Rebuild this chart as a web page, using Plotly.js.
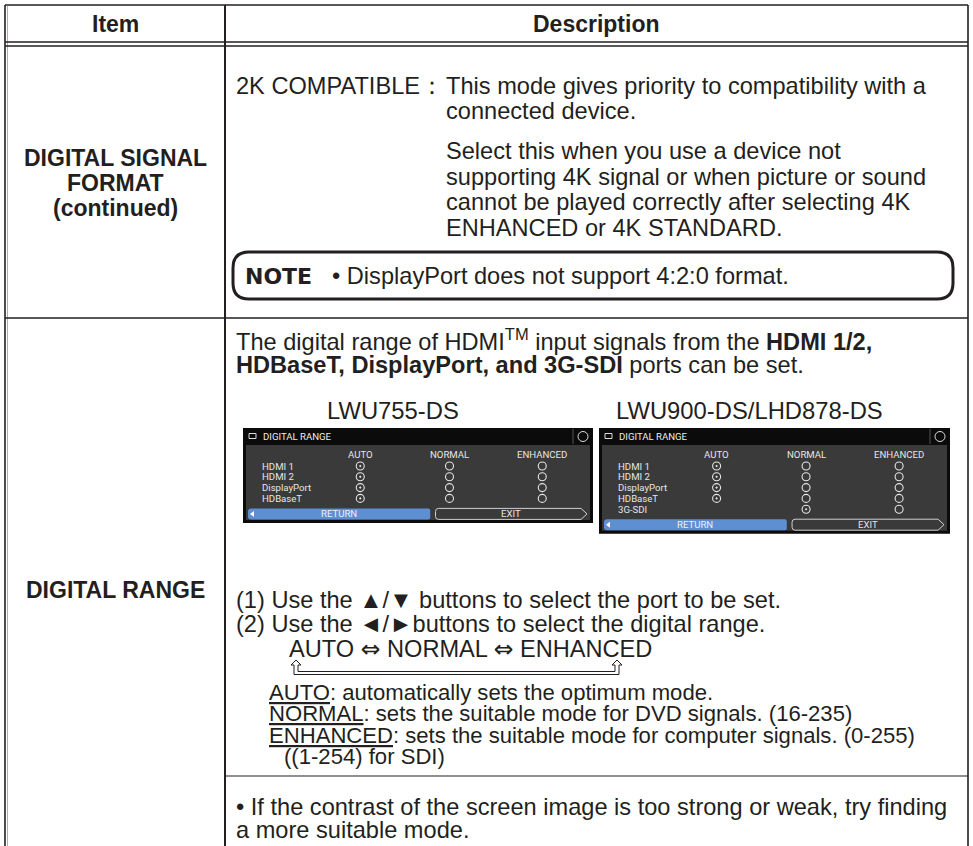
<!DOCTYPE html>
<html><head><meta charset="utf-8">
<script src="https://cdn.plot.ly/plotly-3.0.1.min.js"></script>
<style>html,body{margin:0;padding:0;background:#fff;}#chart{width:973px;height:846px;}</style>
</head><body><div id="chart"></div>
<script>
// ---------- content ----------
const headers = ["Item", "Description"];
const item1Lines = ["DIGITAL SIGNAL", "FORMAT", "(continued)"];
const item2Lines = ["DIGITAL RANGE"];
const compatLabel = "2K COMPATIBLE：";
const compatLines = ["This mode gives priority to compatibility with a", "connected device.", "Select this when you use a device not", "supporting 4K signal or when picture or sound", "cannot be played correctly after selecting 4K", "ENHANCED or 4K STANDARD."];
const noteLabel = "NOTE";
const noteText = "• DisplayPort does not support 4:2:0 format.";
const introLines = ["The digital range of HDMI<sup>TM</sup> input signals from the <b>HDMI 1/2,</b>", "<b>HDBaseT, DisplayPort, and 3G-SDI</b> ports can be set."];
const models = ["LWU755-DS", "LWU900-DS/LHD878-DS"];
const menuTitle = "DIGITAL RANGE";
const modes = ["AUTO", "NORMAL", "ENHANCED"];
const portsA = ["HDMI 1", "HDMI 2", "DisplayPort", "HDBaseT"];
const selectedA = ["AUTO", "AUTO", "AUTO", "AUTO"];
const availableA = [["AUTO","NORMAL","ENHANCED"],["AUTO","NORMAL","ENHANCED"],["AUTO","NORMAL","ENHANCED"],["AUTO","NORMAL","ENHANCED"]];
const portsB = ["HDMI 1", "HDMI 2", "DisplayPort", "HDBaseT", "3G-SDI"];
const selectedB = ["AUTO", "AUTO", "AUTO", "AUTO", "NORMAL"];
const availableB = [["AUTO","NORMAL","ENHANCED"],["AUTO","NORMAL","ENHANCED"],["AUTO","NORMAL","ENHANCED"],["AUTO","NORMAL","ENHANCED"],["NORMAL","ENHANCED"]];
const menuButtons = ["RETURN", "EXIT"];
const steps = ["(1) Use the ▲/▼ buttons to select the port to be set.", "(2) Use the ◄/►buttons to select the digital range."];
const cycleModes = ["AUTO", "NORMAL", "ENHANCED"];
const cycleSep = "⇔";
const modeNames = ["AUTO", "NORMAL", "ENHANCED"];
const modeTexts = [": automatically sets the optimum mode.", ": sets the suitable mode for DVD signals. (16-235)", ": sets the suitable mode for computer signals. (0-255)"];
const sdiNote = "((1-254) for SDI)";
const tipLines = ["• If the contrast of the screen image is too strong or weak, try finding", "a more suitable mode."];

// ---------- styling / layout ----------
const W = 973, H = 846;
const FONT = "Liberation Sans, Arial, sans-serif";
const OSD = "Liberation Sans Narrow, Roboto, Liberation Sans, sans-serif";
const INK = "#231f20";
const BODY = 23.6;
const BOLD = 23;
const shapes = [];
const ann = [];
const traces = [];

function T(x, y, text, o) {
  ann.push(Object.assign({x: x, y: y, xref: "x", yref: "y", text: text, showarrow: false,
    xanchor: "left", yanchor: "middle", font: {family: FONT, size: BODY, color: INK}}, o || {}));
}
function L(x0, y0, x1, y1, w, c) {
  shapes.push({type: "line", xref: "x", yref: "y", x0: x0, y0: y0, x1: x1, y1: y1, line: {color: c || INK, width: w || 1.3}});
}
function P(path, o) {
  shapes.push(Object.assign({type: "path", xref: "x", yref: "y", path: path}, o));
}
function roundRect(x0, y0, x1, y1, r) {
  return `M${x0+r},${y0} H${x1-r} Q${x1},${y0} ${x1},${y0+r} V${y1-r} Q${x1},${y1} ${x1-r},${y1} H${x0+r} Q${x0},${y1} ${x0},${y1-r} V${y0+r} Q${x0},${y0} ${x0+r},${y0} Z`;
}

// table frame
const TL = 5, TR = 968, TT = 5, TB = 852, COL = 225;
const HEAD1 = 42, HEAD2 = 46, ROWSEP = 318;
L(TL, TT, TR, TT, 1.6); L(TL, TT, TL, TB, 1.6); L(TL + 2.5, TT, TL + 2.5, TB, 0.6, "#777");
L(TR, TT, TR, TB, 1.6); L(COL, TT, COL, TB, 2);
L(TL, HEAD1, TR, HEAD1, 1.3); L(TL, HEAD2, TR, HEAD2, 1.3);
L(TL, ROWSEP, TR, ROWSEP, 1.6);
L(COL, 776, TR, 776, 1.2);

// header
const itemCx = (TL + COL) / 2, descCx = (COL + TR) / 2;
const boldFont = {family: FONT, size: BOLD, color: INK};
T(itemCx, 24, "<b>" + headers[0] + "</b>", {xanchor: "center", font: boldFont});
T(descCx, 24, "<b>" + headers[1] + "</b>", {xanchor: "center", font: boldFont});

// item column
const item1Y = [158, 183, 208];
item1Lines.forEach((s, i) => T(itemCx, item1Y[i], "<b>" + s + "</b>", {xanchor: "center", font: boldFont}));
item2Lines.forEach((s) => T(itemCx, 590, "<b>" + s + "</b>", {xanchor: "center", font: boldFont}));

// row 1 description
const DX = 234, HANG = 444;
const compatY = [86, 111, 151, 177, 202, 228];
T(DX, compatY[0], compatLabel);
compatLines.forEach((s, i) => T(HANG, compatY[i], s));
P(roundRect(233, 252, 953, 299, 16), {line: {color: INK, width: 3}});
T(243, 276, "<b>" + noteLabel + "</b>", {font: {family: "DejaVu Sans, Liberation Sans", size: 22, color: INK}});
T(330, 276, noteText);

// row 2 description
const introY = [340, 365];
introLines.forEach((s, i) => T(DX, introY[i], s));

// menus
const menuX = [243, 599], menuW = [350, 351], menuTop = 428;
const modeFrac = [0.335, 0.59, 0.855];
const OSDS = 9.6;
function drawMenu(k, ports, selected, available) {
  const x0 = menuX[k], w = menuW[k], y0 = menuTop;
  const rowH = 10.8, firstRow = y0 + 38;
  const lastRow = firstRow + (ports.length - 1) * rowH;
  const btnC = lastRow + 15.5, y1 = btnC + 9;
  T(x0 + w * 0.5 - 25, 410, models[k], {xanchor: "center", font: {family: FONT, size: 23.8, color: INK}});
  shapes.push({type: "rect", layer: "below", xref: "x", yref: "y", x0: x0, x1: x0 + w, y0: y0, y1: y1, fillcolor: "#0b0b0b", line: {width: 0}});
  shapes.push({type: "rect", layer: "below", xref: "x", yref: "y", x0: x0 + 3, x1: x0 + w - 3, y0: y0 + 17, y1: y1 - 3, fillcolor: "#3a3a3a", line: {width: 0}});
  // title bar
  shapes.push({type: "rect", xref: "x", yref: "y", x0: x0 + 6, x1: x0 + 13, y0: y0 + 5.5, y1: y0 + 10.5, line: {color: "#ddd", width: 1}});
  T(x0 + 18, y0 + 8.5, menuTitle, {font: {family: OSD, size: OSDS, color: "#eeeeee"}});
  L(x0 + w - 20, y0 + 1, x0 + w - 20, y0 + 16, 1, "#555");
  shapes.push({type: "circle", xref: "x", yref: "y", x0: x0 + w - 15, x1: x0 + w - 5, y0: y0 + 3.5, y1: y0 + 13.5, line: {color: "#ddd", width: 1}});
  // headers
  modes.forEach((m, j) => T(x0 + w * modeFrac[j], y0 + 26, m, {xanchor: "center", font: {family: OSD, size: OSDS, color: "#e6e6e6"}}));
  // rows
  const ox = [], oy = [], dx = [], dy = [];
  ports.forEach((p, i) => {
    const yy = firstRow + i * rowH;
    T(x0 + 17, yy, p, {font: {family: OSD, size: OSDS, color: "#e6e6e6"}});
    modes.forEach((m, j) => {
      if (available[i].indexOf(m) < 0) return;
      if (selected[i] === m) { dx.push(x0 + w * modeFrac[j]); dy.push(yy); }
      else { ox.push(x0 + w * modeFrac[j]); oy.push(yy); }
    });
  });
  traces.push({type: "scatter", mode: "markers", x: ox, y: oy, hoverinfo: "skip", showlegend: false,
    marker: {symbol: "circle-open", size: 8, color: "#e6e6e6", line: {width: 1.1}}});
  traces.push({type: "scatter", mode: "markers", x: dx, y: dy, hoverinfo: "skip", showlegend: false,
    marker: {symbol: "circle-open-dot", size: 8, color: "#e6e6e6", line: {width: 1.1}}});
  // buttons
  const by0 = btnC - 5.5, by1 = btnC + 5.5;
  const rx0 = x0 + 5, rx1 = x0 + w * 0.535, ex0 = x0 + w * 0.55, ex1 = x0 + w - 6;
  P(`M${rx0+3},${by0} H${rx1-2} Q${rx1},${by0} ${rx1},${by0+2} V${by1-2} Q${rx1},${by1} ${rx1-2},${by1} H${rx0+3} Q${rx0},${by1} ${rx0},${by1-3} V${by0+3} Q${rx0},${by0} ${rx0+3},${by0} Z`,
    {fillcolor: "#5d8fd2", line: {width: 0}});
  P(`M${rx0+2},${btnC} L${rx0+6},${btnC-3} L${rx0+6},${btnC+3} Z`, {fillcolor: "#ffffff", line: {width: 0}});
  T((rx0 + rx1) / 2, btnC, menuButtons[0], {xanchor: "center", font: {family: OSD, size: OSDS, color: "#eaf1fb"}});
  P(`M${ex0+3},${by0} L${ex1-6},${by0} L${ex1},${btnC} L${ex1-6},${by1} L${ex0+3},${by1} Q${ex0},${by1} ${ex0},${by1-3} L${ex0},${by0+3} Q${ex0},${by0} ${ex0+3},${by0} Z`,
    {line: {color: "#cfcfcf", width: 1}});
  T((ex0 + ex1) / 2, btnC, menuButtons[1], {xanchor: "center", font: {family: OSD, size: OSDS, color: "#e6e6e6"}});
}
drawMenu(0, portsA, selectedA, availableA);
drawMenu(1, portsB, selectedB, availableB);

// steps
const stepY = [600, 624];
steps.forEach((s, i) => T(DX, stepY[i], s));
const sepSpan = ' <span style="font-family:DejaVu Sans;font-size:' + BODY + 'px">' + cycleSep + '</span> ';
T(287, 649, cycleModes.join(sepSpan));
// loop-back arrow
(function () {
  const xL = 296, xR = 617, yT = 660, yB = 673;
  P(`M${xL},${yT} L${xL+5},${yT+5} L${xL+2},${yT+5} L${xL+2},${yB-1.5} L${xR-2},${yB-1.5} L${xR-2},${yT+5} L${xR-5},${yT+5} L${xR},${yT} L${xR+5},${yT+5} L${xR+2},${yT+5} L${xR+2},${yB+1.5} L${xL-2},${yB+1.5} L${xL-2},${yT+5} L${xL-5},${yT+5} Z`,
    {line: {color: INK, width: 1}});
})();
const MODE = 22.1;
const modeY = [692, 713, 735];
modeNames.forEach((m, i) => T(267, modeY[i], "<u>" + m + "</u>" + modeTexts[i], {font: {family: FONT, size: MODE, color: INK}}));
T(282, 756, sdiNote, {font: {family: FONT, size: MODE, color: INK}});
const tipY = [807, 830];
tipLines.forEach((s, i) => T(DX, tipY[i], s));

const layout = {
  width: W, height: H, autosize: false,
  margin: {l: 0, r: 0, t: 0, b: 0, pad: 0},
  paper_bgcolor: "#ffffff", plot_bgcolor: "#ffffff",
  xaxis: {range: [0, W], visible: false, fixedrange: true, showgrid: false, zeroline: false},
  yaxis: {range: [H, 0], visible: false, fixedrange: true, showgrid: false, zeroline: false},
  shapes: shapes, annotations: ann, showlegend: false
};
Plotly.newPlot("chart", traces, layout, {staticPlot: true, displayModeBar: false});
</script></body></html>
